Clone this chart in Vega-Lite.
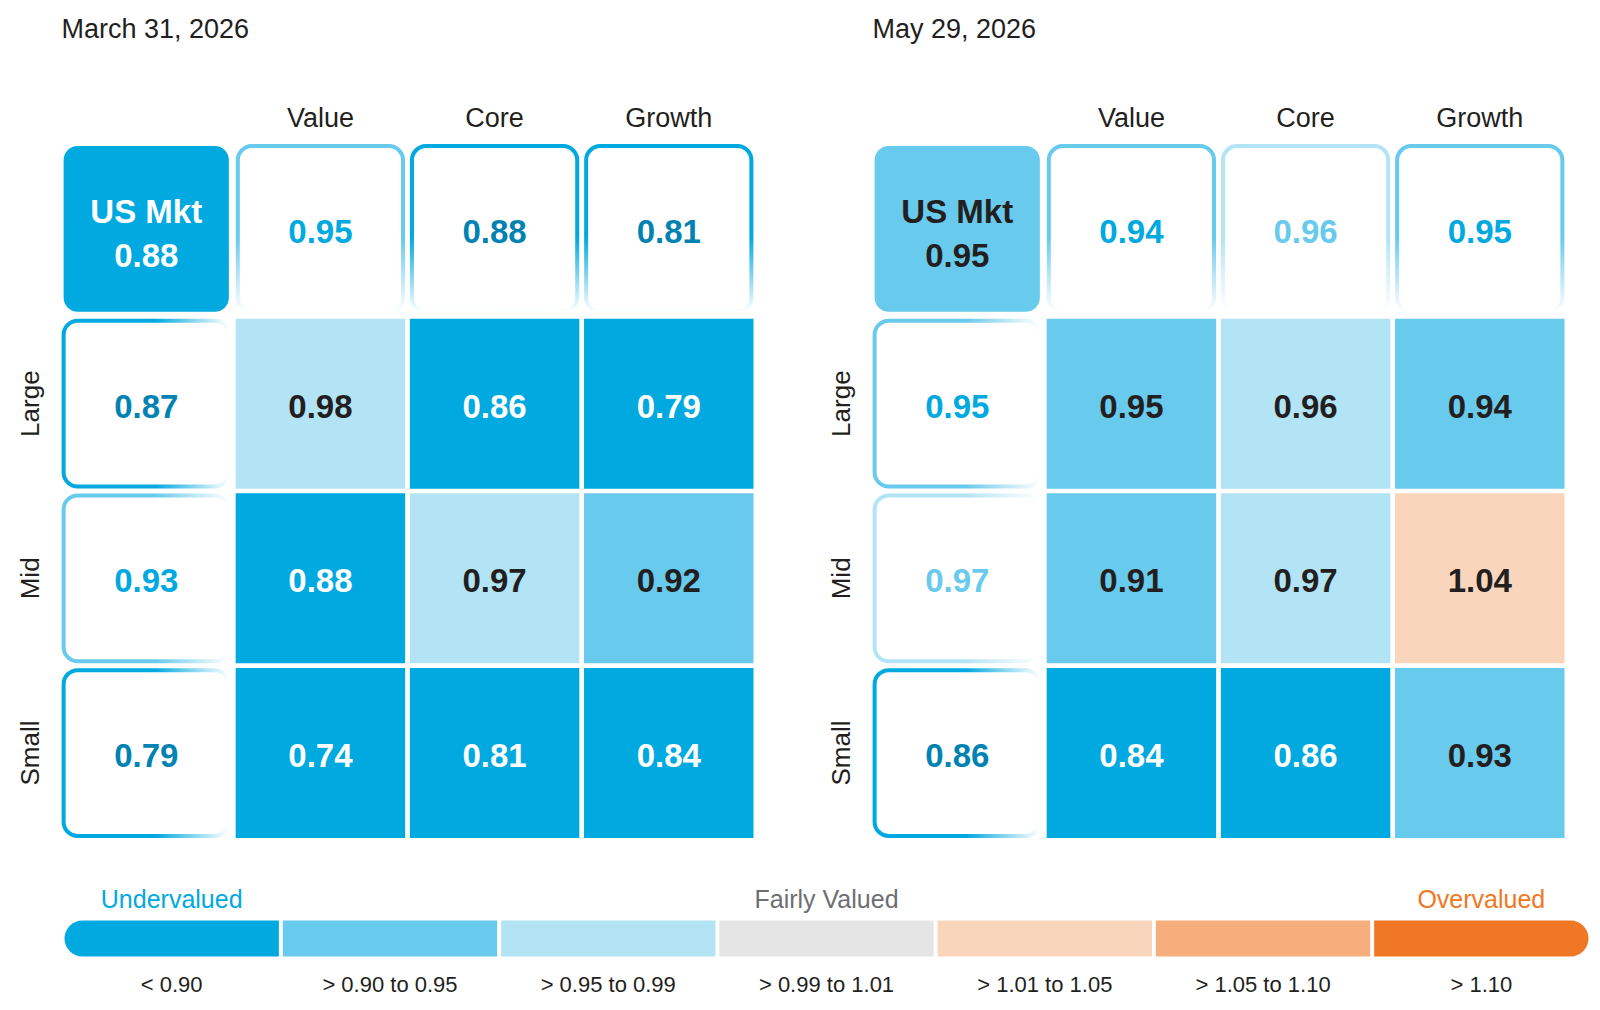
{
  "$schema": "https://vega.github.io/schema/vega-lite/v6.json",
  "background": "white",
  "padding": {"left": 16.5, "top": 16, "right": 0, "bottom": 0},
  "config": {
    "view": {"stroke": null},
    "font": "Liberation Sans, Arial, sans-serif"
  },
  "datasets": {
    "cells": [
      {"date": "March 31, 2026", "size": "All", "style": "All", "ratio": 0.88},
      {"date": "March 31, 2026", "size": "All", "style": "Value", "ratio": 0.95},
      {"date": "March 31, 2026", "size": "All", "style": "Core", "ratio": 0.88},
      {"date": "March 31, 2026", "size": "All", "style": "Growth", "ratio": 0.81},
      {"date": "March 31, 2026", "size": "Large", "style": "All", "ratio": 0.87},
      {"date": "March 31, 2026", "size": "Large", "style": "Value", "ratio": 0.98},
      {"date": "March 31, 2026", "size": "Large", "style": "Core", "ratio": 0.86},
      {"date": "March 31, 2026", "size": "Large", "style": "Growth", "ratio": 0.79},
      {"date": "March 31, 2026", "size": "Mid", "style": "All", "ratio": 0.93},
      {"date": "March 31, 2026", "size": "Mid", "style": "Value", "ratio": 0.88},
      {"date": "March 31, 2026", "size": "Mid", "style": "Core", "ratio": 0.97},
      {"date": "March 31, 2026", "size": "Mid", "style": "Growth", "ratio": 0.92},
      {"date": "March 31, 2026", "size": "Small", "style": "All", "ratio": 0.79},
      {"date": "March 31, 2026", "size": "Small", "style": "Value", "ratio": 0.74},
      {"date": "March 31, 2026", "size": "Small", "style": "Core", "ratio": 0.81},
      {"date": "March 31, 2026", "size": "Small", "style": "Growth", "ratio": 0.84},
      {"date": "May 29, 2026", "size": "All", "style": "All", "ratio": 0.95},
      {"date": "May 29, 2026", "size": "All", "style": "Value", "ratio": 0.94},
      {"date": "May 29, 2026", "size": "All", "style": "Core", "ratio": 0.96},
      {"date": "May 29, 2026", "size": "All", "style": "Growth", "ratio": 0.95},
      {"date": "May 29, 2026", "size": "Large", "style": "All", "ratio": 0.95},
      {"date": "May 29, 2026", "size": "Large", "style": "Value", "ratio": 0.95},
      {"date": "May 29, 2026", "size": "Large", "style": "Core", "ratio": 0.96},
      {"date": "May 29, 2026", "size": "Large", "style": "Growth", "ratio": 0.94},
      {"date": "May 29, 2026", "size": "Mid", "style": "All", "ratio": 0.97},
      {"date": "May 29, 2026", "size": "Mid", "style": "Value", "ratio": 0.91},
      {"date": "May 29, 2026", "size": "Mid", "style": "Core", "ratio": 0.97},
      {"date": "May 29, 2026", "size": "Mid", "style": "Growth", "ratio": 1.04},
      {"date": "May 29, 2026", "size": "Small", "style": "All", "ratio": 0.86},
      {"date": "May 29, 2026", "size": "Small", "style": "Value", "ratio": 0.84},
      {"date": "May 29, 2026", "size": "Small", "style": "Core", "ratio": 0.86},
      {"date": "May 29, 2026", "size": "Small", "style": "Growth", "ratio": 0.93}
    ],
    "bins": [
      {"range": "< 0.90"},
      {"range": "> 0.90 to 0.95"},
      {"range": "> 0.95 to 0.99"},
      {"range": "> 0.99 to 1.01"},
      {"range": "> 1.01 to 1.05"},
      {"range": "> 1.05 to 1.10"},
      {"range": "> 1.10"}
    ]
  },
  "data": {"name": "cells"},
  "resolve": {"scale": {"fill": "independent"}},
  "spacing": 47.5,
  "vconcat": [
    {
      "spacing": 72,
      "hconcat": [
        {
          "width": 692,
          "height": 694,
          "title": {"text": "March 31, 2026", "anchor": "start", "frame": "group", "fontSize": 27, "fontWeight": "normal", "color": "#231F20", "baseline": "bottom", "offset": 33.5},
          "transform": [{"filter": "datum.date === 'March 31, 2026'"}],
          "encoding": {
            "x": {"field": "style", "type": "nominal", "sort": null,
              "scale": {"type": "band", "domain": ["All", "Value", "Core", "Growth"], "paddingInner": 0.027, "paddingOuter": 0},
              "axis": {"orient": "top", "title": null, "domain": false, "ticks": false, "grid": false, "labelAngle": 0, "labelPadding": 11.5, "labelFontSize": 27, "labelColor": "#231F20", "labelOverlap": false, "labelExpr": "datum.value === 'All' ? '' : datum.value"}},
            "y": {"field": "size", "type": "nominal", "sort": null,
              "scale": {"type": "band", "domain": ["All", "Large", "Mid", "Small"], "paddingInner": 0.027, "paddingOuter": 0},
              "axis": {"orient": "left", "title": null, "domain": false, "ticks": false, "grid": false, "labelAngle": 270, "labelAlign": "center", "labelBaseline": "bottom", "labelPadding": 18.5, "labelFontSize": 26, "labelColor": "#231F20", "labelOverlap": false, "labelExpr": "datum.value === 'All' ? '' : datum.value"}}
          },
          "layer": [
            {
              "transform": [{"filter": "datum.size !== 'All' && datum.style !== 'All'"}],
              "mark": {"type": "rect"},
              "encoding": {"fill": {"field": "ratio", "type": "quantitative", "legend": null,
                "scale": {"type": "threshold", "domain": [0.9, 0.955, 0.995, 1.015, 1.055, 1.105], "range": ["#00A9E0", "#68CAEC", "#B3E4F5", "#E5E5E5", "#F9D5BC", "#F5AE7C", "#F07723"]}}}
            },
            {
              "transform": [{"filter": "(datum.size === 'All') !== (datum.style === 'All')"}],
              "mark": {"type": "rect", "cornerRadius": 14, "strokeWidth": 4, "fill": "white", "width": {"band": 0.975}, "height": {"band": 0.975}},
              "encoding": {"stroke": {"field": "ratio", "type": "quantitative", "legend": null,
                "scale": {"type": "threshold", "domain": [0.9, 0.955, 0.995, 1.015, 1.055, 1.105], "range": ["#00A9E0", "#68CAEC", "#B3E4F5", "#E5E5E5", "#F9D5BC", "#F5AE7C", "#F07723"]}}}
            },
            {
              "transform": [{"filter": "datum.size === 'All' && datum.style !== 'All'"}],
              "mark": {"type": "rect", "cornerRadius": 14, "strokeWidth": 7, "fill": "transparent", "width": {"band": 0.975}, "height": {"band": 0.975},
                "stroke": {"gradient": "linear", "x1": 0, "y1": 0, "x2": 0, "y2": 1, "stops": [{"offset": 0, "color": "rgba(255,255,255,0)"}, {"offset": 0.55, "color": "rgba(255,255,255,0)"}, {"offset": 1, "color": "#ffffff"}]}},
              "encoding": {}
            },
            {
              "transform": [{"filter": "datum.style === 'All' && datum.size !== 'All'"}],
              "mark": {"type": "rect", "cornerRadius": 14, "strokeWidth": 7, "fill": "transparent", "width": {"band": 0.975}, "height": {"band": 0.975},
                "stroke": {"gradient": "linear", "x1": 0, "y1": 0, "x2": 1, "y2": 0, "stops": [{"offset": 0, "color": "rgba(255,255,255,0)"}, {"offset": 0.55, "color": "rgba(255,255,255,0)"}, {"offset": 1, "color": "#ffffff"}]}},
              "encoding": {}
            },
            {
              "transform": [{"filter": "datum.size === 'All' && datum.style === 'All'"}],
              "mark": {"type": "rect", "cornerRadius": 14, "width": {"band": 0.975}, "height": {"band": 0.975}},
              "encoding": {"fill": {"field": "ratio", "type": "quantitative", "legend": null,
                "scale": {"type": "threshold", "domain": [0.9, 0.955, 0.995, 1.015, 1.055, 1.105], "range": ["#00A9E0", "#68CAEC", "#B3E4F5", "#E5E5E5", "#F9D5BC", "#F5AE7C", "#F07723"]}}}
            },
            {
              "transform": [{"filter": "datum.size !== 'All' && datum.style !== 'All'"}],
              "mark": {"type": "text", "fontSize": 33, "fontWeight": "bold", "baseline": "middle", "dy": 4},
              "encoding": {
                "text": {"field": "ratio", "type": "quantitative", "format": ".2f"},
                "color": {"condition": {"test": "datum.ratio < 0.9", "value": "#FFFFFF"}, "value": "#231F20"}
              }
            },
            {
              "transform": [{"filter": "(datum.size === 'All') !== (datum.style === 'All')"}],
              "mark": {"type": "text", "fontSize": 33, "fontWeight": "bold", "baseline": "middle", "dy": 4},
              "encoding": {
                "text": {"field": "ratio", "type": "quantitative", "format": ".2f"},
                "color": {"condition": [{"test": "datum.ratio < 0.9", "value": "#0083B3"}, {"test": "datum.ratio < 0.955", "value": "#00A9E0"}, {"test": "datum.ratio < 0.995", "value": "#68CAEC"}], "value": "#F07723"}
              }
            },
            {
              "transform": [{"filter": "datum.size === 'All' && datum.style === 'All'"}],
              "mark": {"type": "text", "text": "US Mkt", "fontSize": 33, "fontWeight": "bold", "baseline": "middle", "dy": -16},
              "encoding": {
                "color": {"condition": {"test": "datum.ratio < 0.9", "value": "#FFFFFF"}, "value": "#231F20"}
              }
            },
            {
              "transform": [{"filter": "datum.size === 'All' && datum.style === 'All'"}],
              "mark": {"type": "text", "fontSize": 33, "fontWeight": "bold", "baseline": "middle", "dy": 28},
              "encoding": {
                "text": {"field": "ratio", "type": "quantitative", "format": ".2f"},
                "color": {"condition": {"test": "datum.ratio < 0.9", "value": "#FFFFFF"}, "value": "#231F20"}
              }
            }
          ]
        },
        {
          "width": 692,
          "height": 694,
          "title": {"text": "May 29, 2026", "anchor": "start", "frame": "group", "fontSize": 27, "fontWeight": "normal", "color": "#231F20", "baseline": "bottom", "offset": 33.5},
          "transform": [{"filter": "datum.date === 'May 29, 2026'"}],
          "encoding": {
            "x": {"field": "style", "type": "nominal", "sort": null,
              "scale": {"type": "band", "domain": ["All", "Value", "Core", "Growth"], "paddingInner": 0.027, "paddingOuter": 0},
              "axis": {"orient": "top", "title": null, "domain": false, "ticks": false, "grid": false, "labelAngle": 0, "labelPadding": 11.5, "labelFontSize": 27, "labelColor": "#231F20", "labelOverlap": false, "labelExpr": "datum.value === 'All' ? '' : datum.value"}},
            "y": {"field": "size", "type": "nominal", "sort": null,
              "scale": {"type": "band", "domain": ["All", "Large", "Mid", "Small"], "paddingInner": 0.027, "paddingOuter": 0},
              "axis": {"orient": "left", "title": null, "domain": false, "ticks": false, "grid": false, "labelAngle": 270, "labelAlign": "center", "labelBaseline": "bottom", "labelPadding": 18.5, "labelFontSize": 26, "labelColor": "#231F20", "labelOverlap": false, "labelExpr": "datum.value === 'All' ? '' : datum.value"}}
          },
          "layer": [
            {
              "transform": [{"filter": "datum.size !== 'All' && datum.style !== 'All'"}],
              "mark": {"type": "rect"},
              "encoding": {"fill": {"field": "ratio", "type": "quantitative", "legend": null,
                "scale": {"type": "threshold", "domain": [0.9, 0.955, 0.995, 1.015, 1.055, 1.105], "range": ["#00A9E0", "#68CAEC", "#B3E4F5", "#E5E5E5", "#F9D5BC", "#F5AE7C", "#F07723"]}}}
            },
            {
              "transform": [{"filter": "(datum.size === 'All') !== (datum.style === 'All')"}],
              "mark": {"type": "rect", "cornerRadius": 14, "strokeWidth": 4, "fill": "white", "width": {"band": 0.975}, "height": {"band": 0.975}},
              "encoding": {"stroke": {"field": "ratio", "type": "quantitative", "legend": null,
                "scale": {"type": "threshold", "domain": [0.9, 0.955, 0.995, 1.015, 1.055, 1.105], "range": ["#00A9E0", "#68CAEC", "#B3E4F5", "#E5E5E5", "#F9D5BC", "#F5AE7C", "#F07723"]}}}
            },
            {
              "transform": [{"filter": "datum.size === 'All' && datum.style !== 'All'"}],
              "mark": {"type": "rect", "cornerRadius": 14, "strokeWidth": 7, "fill": "transparent", "width": {"band": 0.975}, "height": {"band": 0.975},
                "stroke": {"gradient": "linear", "x1": 0, "y1": 0, "x2": 0, "y2": 1, "stops": [{"offset": 0, "color": "rgba(255,255,255,0)"}, {"offset": 0.55, "color": "rgba(255,255,255,0)"}, {"offset": 1, "color": "#ffffff"}]}},
              "encoding": {}
            },
            {
              "transform": [{"filter": "datum.style === 'All' && datum.size !== 'All'"}],
              "mark": {"type": "rect", "cornerRadius": 14, "strokeWidth": 7, "fill": "transparent", "width": {"band": 0.975}, "height": {"band": 0.975},
                "stroke": {"gradient": "linear", "x1": 0, "y1": 0, "x2": 1, "y2": 0, "stops": [{"offset": 0, "color": "rgba(255,255,255,0)"}, {"offset": 0.55, "color": "rgba(255,255,255,0)"}, {"offset": 1, "color": "#ffffff"}]}},
              "encoding": {}
            },
            {
              "transform": [{"filter": "datum.size === 'All' && datum.style === 'All'"}],
              "mark": {"type": "rect", "cornerRadius": 14, "width": {"band": 0.975}, "height": {"band": 0.975}},
              "encoding": {"fill": {"field": "ratio", "type": "quantitative", "legend": null,
                "scale": {"type": "threshold", "domain": [0.9, 0.955, 0.995, 1.015, 1.055, 1.105], "range": ["#00A9E0", "#68CAEC", "#B3E4F5", "#E5E5E5", "#F9D5BC", "#F5AE7C", "#F07723"]}}}
            },
            {
              "transform": [{"filter": "datum.size !== 'All' && datum.style !== 'All'"}],
              "mark": {"type": "text", "fontSize": 33, "fontWeight": "bold", "baseline": "middle", "dy": 4},
              "encoding": {
                "text": {"field": "ratio", "type": "quantitative", "format": ".2f"},
                "color": {"condition": {"test": "datum.ratio < 0.9", "value": "#FFFFFF"}, "value": "#231F20"}
              }
            },
            {
              "transform": [{"filter": "(datum.size === 'All') !== (datum.style === 'All')"}],
              "mark": {"type": "text", "fontSize": 33, "fontWeight": "bold", "baseline": "middle", "dy": 4},
              "encoding": {
                "text": {"field": "ratio", "type": "quantitative", "format": ".2f"},
                "color": {"condition": [{"test": "datum.ratio < 0.9", "value": "#0083B3"}, {"test": "datum.ratio < 0.955", "value": "#00A9E0"}, {"test": "datum.ratio < 0.995", "value": "#68CAEC"}], "value": "#F07723"}
              }
            },
            {
              "transform": [{"filter": "datum.size === 'All' && datum.style === 'All'"}],
              "mark": {"type": "text", "text": "US Mkt", "fontSize": 33, "fontWeight": "bold", "baseline": "middle", "dy": -16},
              "encoding": {
                "color": {"condition": {"test": "datum.ratio < 0.9", "value": "#FFFFFF"}, "value": "#231F20"}
              }
            },
            {
              "transform": [{"filter": "datum.size === 'All' && datum.style === 'All'"}],
              "mark": {"type": "text", "fontSize": 33, "fontWeight": "bold", "baseline": "middle", "dy": 28},
              "encoding": {
                "text": {"field": "ratio", "type": "quantitative", "format": ".2f"},
                "color": {"condition": {"test": "datum.ratio < 0.9", "value": "#FFFFFF"}, "value": "#231F20"}
              }
            }
          ]
        }
      ]
    },
    {
      "width": 1527,
      "height": 36,
      "data": {"name": "bins"},
      "resolve": {"axis": {"x": "independent"}},
      "encoding": {
        "y": {"datum": "scale", "type": "nominal", "scale": {"type": "band", "paddingInner": 0, "paddingOuter": 0}, "axis": null}
      },
      "layer": [
        {
          "transform": [{"filter": "datum.range !== '< 0.90' && datum.range !== '> 1.10'"}],
          "mark": {"type": "rect"},
          "encoding": {
            "x": {"field": "range", "type": "nominal", "sort": null,
              "scale": {"type": "band", "domain": ["< 0.90", "> 0.90 to 0.95", "> 0.95 to 0.99", "> 0.99 to 1.01", "> 1.01 to 1.05", "> 1.05 to 1.10", "> 1.10"], "paddingInner": 0.018, "paddingOuter": 0.0069, "align": 1},
              "axis": {"orient": "bottom", "title": null, "domain": false, "ticks": false, "grid": false, "labelAngle": 0, "labelPadding": 18, "labelFontSize": 22, "labelColor": "#231F20", "labelOverlap": false}},
            "fill": {"field": "range", "type": "nominal", "legend": null,
              "scale": {"domain": ["< 0.90", "> 0.90 to 0.95", "> 0.95 to 0.99", "> 0.99 to 1.01", "> 1.01 to 1.05", "> 1.05 to 1.10", "> 1.10"], "range": ["#00A9E0", "#68CAEC", "#B3E4F5", "#E5E5E5", "#F9D5BC", "#F5AE7C", "#F07723"]}}
          }
        },
        {
          "transform": [{"filter": "datum.range === '< 0.90'"}],
          "mark": {"type": "rect", "cornerRadiusTopLeft": 18, "cornerRadiusBottomLeft": 18},
          "encoding": {
            "x": {"field": "range", "type": "nominal", "sort": null,
              "scale": {"type": "band", "domain": ["< 0.90", "> 0.90 to 0.95", "> 0.95 to 0.99", "> 0.99 to 1.01", "> 1.01 to 1.05", "> 1.05 to 1.10", "> 1.10"], "paddingInner": 0.018, "paddingOuter": 0.0069, "align": 1},
              "axis": {"orient": "top", "title": null, "domain": false, "ticks": false, "grid": false, "labelAngle": 0, "labelPadding": 8, "labelFontSize": 25, "labelOverlap": false,
                "labelExpr": "datum.value === '< 0.90' ? 'Undervalued' : datum.value === '> 0.99 to 1.01' ? 'Fairly Valued' : datum.value === '> 1.10' ? 'Overvalued' : ''",
                "labelColor": {"condition": [{"test": "datum.value === '< 0.90'", "value": "#00A9E0"}, {"test": "datum.value === '> 1.10'", "value": "#F07723"}], "value": "#6D6E71"}}},
            "fill": {"field": "range", "type": "nominal", "legend": null,
              "scale": {"domain": ["< 0.90", "> 0.90 to 0.95", "> 0.95 to 0.99", "> 0.99 to 1.01", "> 1.01 to 1.05", "> 1.05 to 1.10", "> 1.10"], "range": ["#00A9E0", "#68CAEC", "#B3E4F5", "#E5E5E5", "#F9D5BC", "#F5AE7C", "#F07723"]}}
          }
        },
        {
          "transform": [{"filter": "datum.range === '> 1.10'"}],
          "mark": {"type": "rect", "cornerRadiusTopRight": 18, "cornerRadiusBottomRight": 18},
          "encoding": {
            "x": {"field": "range", "type": "nominal", "sort": null,
              "scale": {"type": "band", "domain": ["< 0.90", "> 0.90 to 0.95", "> 0.95 to 0.99", "> 0.99 to 1.01", "> 1.01 to 1.05", "> 1.05 to 1.10", "> 1.10"], "paddingInner": 0.018, "paddingOuter": 0.0069, "align": 1},
              "axis": null},
            "fill": {"field": "range", "type": "nominal", "legend": null,
              "scale": {"domain": ["< 0.90", "> 0.90 to 0.95", "> 0.95 to 0.99", "> 0.99 to 1.01", "> 1.01 to 1.05", "> 1.05 to 1.10", "> 1.10"], "range": ["#00A9E0", "#68CAEC", "#B3E4F5", "#E5E5E5", "#F9D5BC", "#F5AE7C", "#F07723"]}}
          }
        }
      ]
    }
  ]
}
